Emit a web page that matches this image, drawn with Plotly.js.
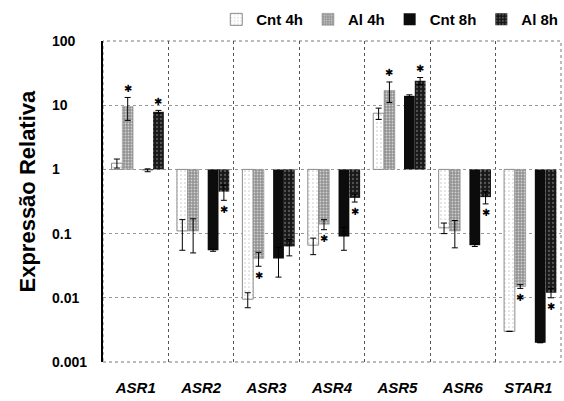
<!DOCTYPE html>
<html><head><meta charset="utf-8">
<script src="https://cdn.plot.ly/plotly-3.0.1.min.js"></script>
<style>html,body{margin:0;padding:0;background:#fff}#chart{width:564px;height:401px}</style>
</head><body><div id="chart"></div>
<script>
const categories = ['ASR1','ASR2','ASR3','ASR4','ASR5','ASR6','STAR1'];
const seriesNames = ['Cnt 4h','Al 4h','Cnt 8h','Al 8h'];
const cnt4h    = [1.25, 0.11, 0.0095, 0.066, 7.5, 0.123, 0.003];
const cnt4hErr = [0.2, 0.055, 0.0025, 0.019, 1.5, 0.023, 0];
const al4h     = [9.5, 0.11, 0.041, 0.14, 17, 0.11, 0.015];
const al4hErr  = [3.7, 0.06, 0.01, 0.025, 6, 0.05, 0.001];
const cnt8h    = [0.97, 0.055, 0.041, 0.09, 14, 0.066, 0.002];
const cnt8hErr = [0.05, 0.002, 0.02, 0.035, 0.5, 0.003, 0];
const al8h     = [7.9, 0.45, 0.063, 0.36, 24, 0.37, 0.012];
const al8hErr  = [0.4, 0.12, 0.018, 0.05, 3, 0.08, 0.002];
const sigAl4h  = [1,0,1,1,1,0,1];
const sigAl8h  = [1,1,0,1,1,1,1];
const yTickVals = [0.001,0.01,0.1,1,10,100];
const yTickText = ['0.001','0.01','0.1','1','10','100'];
const yTitle = 'Expressão Relativa';

const FONT = 'Liberation Sans, Arial, sans-serif';
const BASE = 1;
const W = 0.165;
const values = [cnt4h, al4h, cnt8h, al8h];
const errs = [cnt4hErr, al4hErr, cnt8hErr, al8hErr];
const sigs = [null, sigAl4h, null, sigAl8h];
const styles = [
  {offset:-0.37, color:'#ffffff', line:{color:'#8c8c8c',width:1}, pattern:{shape:'.', fgcolor:'#d0d0d0', bgcolor:'#ffffff', size:4, solidity:0.15}},
  {offset:-0.205, color:'#9a9a9a', line:{color:'#8a8a8a',width:0.5}, pattern:{shape:'.', fgcolor:'#d2d2d2', bgcolor:'#929292', size:3, solidity:0.3}},
  {offset:0.10, color:'#0c0c0c', line:{color:'#0c0c0c',width:0}},
  {offset:0.265, color:'#1e1e1e', line:{color:'#1e1e1e',width:0}, pattern:{shape:'.', fgcolor:'#555555', bgcolor:'#181818', size:4, solidity:0.25}}
];

const traces = values.map((vals, k) => {
  const st = styles[k];
  const marker = {color: st.color, line: st.line};
  if (st.pattern) marker.pattern = st.pattern;
  return {
    type:'bar', name: seriesNames[k], x: categories,
    base: vals.map(() => BASE), y: vals.map(v => v - BASE),
    offset: st.offset, width: W, marker: marker,
    error_y: {type:'data', array: errs[k], visible:true, color:'#000', thickness:1, width:3},
    hoverinfo:'skip'
  };
});

const annotations = [];
sigs.forEach((sig, k) => {
  if (!sig) return;
  sig.forEach((s, i) => {
    if (!s) return;
    const v = values[k][i], e = errs[k][i];
    const up = v > BASE;
    annotations.push({
      xref:'x', yref:'y', x: i + styles[k].offset + W/2,
      y: Math.log10(up ? v + e : v - e), yshift: up ? 9 : -9,
      text:'\u2731', showarrow:false, xanchor:'center', yanchor:'middle',
      font:{family:'DejaVu Sans', size:10, color:'#000'}
    });
  });
});
yTickVals.forEach((tv, j) => {
  annotations.push({
    xref:'paper', yref:'y', x:0, xshift:-53, y: Math.log10(tv),
    text: yTickText[j], showarrow:false, xanchor:'left', yanchor:'middle',
    font:{family:FONT, size:14, weight:'bold', color:'#000'}
  });
});
annotations.push({
  xref:'paper', yref:'paper', x:0, xshift:-76, y:0.5, yshift:10,
  text: yTitle, textangle:-90, showarrow:false, xanchor:'center', yanchor:'middle',
  font:{family:FONT, size:22, weight:'bold', color:'#000'}
});

const layout = {
  width:564, height:401,
  margin:{l:103, r:1, t:41, b:39},
  paper_bgcolor:'#fff', plot_bgcolor:'#fff',
  barmode:'overlay', showlegend:true,
  legend:{orientation:'h', x:1.005, xanchor:'right', y:1.118, yanchor:'top',
    font:{family:FONT, size:15, weight:'bold', color:'#000'}, itemwidth:30, tracegroupgap:0, bgcolor:'rgba(0,0,0,0)'},
  xaxis:{type:'category', tickson:'boundaries', showgrid:true, gridcolor:'#555', griddash:'dot', gridwidth:1,
    ticks:'', showline:false, zeroline:false, ticklabelstandoff:15,
    tickfont:{family:FONT, size:15, weight:'bold', style:'italic', color:'#000'}},
  yaxis:{type:'log', range:[-3,2], tickvals:yTickVals, showticklabels:false, ticks:'',
    showgrid:true, gridcolor:'#999', griddash:'dot', gridwidth:1,
    showline:true, linecolor:'#000', linewidth:2, zeroline:false},
  shapes:[
    {type:'rect', xref:'paper', yref:'paper', x0:0, x1:1, y0:0, y1:1, line:{color:'#777', width:1, dash:'dot'}, layer:'below'},
    {type:'line', xref:'paper', yref:'y', x0:0, x1:1, y0:Math.log10(BASE), y1:Math.log10(BASE), line:{color:'#000', width:2}, layer:'above'}
  ],
  annotations: annotations
};
Plotly.newPlot('chart', traces, layout, {staticPlot:true, displayModeBar:false});
</script></body></html>
